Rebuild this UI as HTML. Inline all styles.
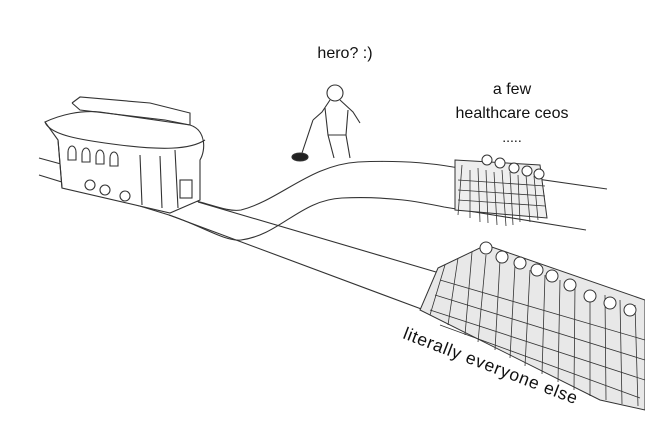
<!DOCTYPE html>
<html><head><meta charset="utf-8"><style>
html,body{margin:0;padding:0;background:#fff;}
svg{display:block}
text{font-family:"Liberation Sans",sans-serif;fill:#111}
</style></head><body>
<svg width="645" height="430" viewBox="0 0 645 430" xmlns="http://www.w3.org/2000/svg">
<rect width="645" height="430" fill="#fff"/>
<g fill="none" stroke="#333" stroke-width="1.1">
<!-- tracks -->
<path d="M39 158 L200 202 C215 206 230 212 241 210 C280 200 310 165 358 162 C400 160 430 163 453 167 L607 189"/>
<path d="M39 175 L169 215 C200 225 225 242 241 240 C280 235 300 200 342 198 C390 196 420 202 444 207 L586 230"/>
<path d="M198 202 L436 272 L645 340"/>
<path d="M169 215 L424 310 L645 400"/>
<!-- trolley -->
<path d="M45 122 C60 115 80 110 100 112 L190 125 C206 130 206 150 200 160 L200 200 L170 213 L62 188 L58 140 Z" fill="#fff"/>
<path d="M45 122 C50 135 80 140 120 145 C160 150 190 150 205 140"/>
<path d="M72 103 L80 110 L165 120 L190 125 M72 103 L80 97 L150 103 L190 113 L190 125"/>
<path d="M58 140 L62 188 M140 155 L142 205 M160 156 L162 208 M175 150 L178 208"/>
<path d="M68 152 a4 6 0 0 1 8 0 v8 h-8 z M82 154 a4 6 0 0 1 8 0 v8 h-8 z M96 156 a4 6 0 0 1 8 0 v8 h-8 z M110 158 a4 6 0 0 1 8 0 v8 h-8 z"/>
<rect x="180" y="180" width="12" height="18"/>
<circle cx="90" cy="185" r="5"/><circle cx="105" cy="190" r="5"/><circle cx="125" cy="196" r="5"/>
<!-- hero -->
<circle cx="335" cy="93" r="8"/>
<path d="M330 100 L322 112 L313 120 M340 100 L353 112 L360 123 M325 108 L328 135 L334 158 M348 110 L346 135 L350 158 M328 135 L346 135"/>
<path d="M313 120 L302 153"/>
<ellipse cx="300" cy="157" rx="8" ry="4" fill="#222"/>
</g>
<!-- ceo group -->
<path d="M455 160 L540 165 L547 218 L455 210 Z" fill="#eee" stroke="#333" stroke-width="1"/>
<g stroke="#333" stroke-width="0.8">
<path d="M462 165 L458 215 M470 170 L470 218 M478 168 L480 222 M486 170 L488 223 M494 172 L497 225 M502 170 L506 226 M510 172 L513 225 M518 175 L520 222 M526 175 L530 222 M534 176 L538 220"/>
<path d="M458 180 L545 186 M458 190 L545 196 M458 200 L545 206"/>
</g>
<g fill="#fff" stroke="#333"><circle cx="487" cy="160" r="5"/><circle cx="500" cy="163" r="5"/><circle cx="514" cy="168" r="5"/><circle cx="527" cy="171" r="5"/><circle cx="539" cy="174" r="5"/></g>
<!-- crowd -->
<path d="M438 268 L486 245 L645 300 L645 410 L600 400 L420 310 Z" fill="#e8e8e8" stroke="#333"/>
<g stroke="#333" stroke-width="0.8">
<path d="M445 265 L430 315 M458 258 L448 325 M472 252 L465 335 M486 255 L478 342 M500 260 L495 350 M515 265 L510 358 M530 270 L525 366 M545 275 L542 374 M560 280 L558 382 M575 285 L574 390 M590 290 L590 396 M605 295 L606 400 M620 300 L622 404 M635 305 L638 406"/>
<path d="M440 280 L645 340 M435 295 L645 360 M430 310 L645 380 M440 325 L640 398"/>
</g>
<g fill="#fff" stroke="#333"><circle cx="486" cy="248" r="6"/><circle cx="502" cy="257" r="6"/><circle cx="520" cy="263" r="6"/><circle cx="537" cy="270" r="6"/><circle cx="552" cy="276" r="6"/><circle cx="570" cy="285" r="6"/><circle cx="590" cy="296" r="6"/><circle cx="610" cy="303" r="6"/><circle cx="630" cy="310" r="6"/></g>
<text x="345" y="58" font-size="16" text-anchor="middle">hero? :)</text>
<text x="512" y="94" font-size="16" text-anchor="middle">a few</text>
<text x="512" y="118" font-size="16" text-anchor="middle">healthcare ceos</text>
<text x="512" y="142" font-size="14" text-anchor="middle">.....</text>
<text x="402" y="338" font-size="17.5" transform="rotate(21 402 338)" textLength="185">literally everyone else</text>
</svg>
</body></html>
